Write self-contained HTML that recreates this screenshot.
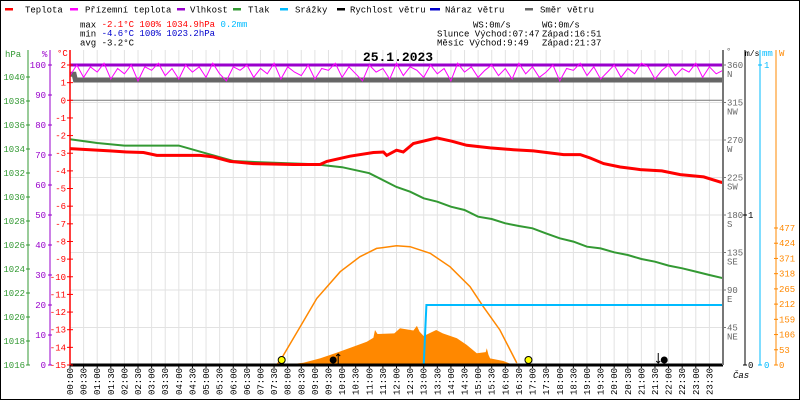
<!DOCTYPE html>
<html><head><meta charset="utf-8"><style>
html,body{margin:0;padding:0;background:#fff;}
svg{display:block;font-family:"Liberation Mono",monospace;}
</style></head><body>
<svg id="chart" width="800" height="400" viewBox="0 0 800 400" xmlns="http://www.w3.org/2000/svg">
<rect x="0.5" y="0.5" width="799" height="399" fill="#fff" stroke="#000"/>
<g font-size="9" dominant-baseline="middle">
 <g><rect x="5" y="8" width="8" height="2.5" fill="#f00"/><text x="25" y="10">Teplota</text></g>
 <g><rect x="70" y="8" width="8" height="2.5" fill="#f0f"/><text x="85" y="10">Přízemní teplota</text></g>
 <g><rect x="177" y="8" width="8" height="2.5" fill="#90c"/><text x="190" y="10">Vlhkost</text></g>
 <g><rect x="233" y="8" width="8" height="2.5" fill="#393"/><text x="248" y="10">Tlak</text></g>
 <g><rect x="280" y="8" width="8" height="2.5" fill="#0bf"/><text x="295" y="10">Srážky</text></g>
 <g><rect x="337" y="8" width="8" height="2.5" fill="#000"/><text x="350" y="10">Rychlost větru</text></g>
 <g><rect x="430" y="8" width="10" height="2.5" fill="#00c"/><text x="445" y="10">Náraz větru</text></g>
 <g><rect x="525" y="8" width="8" height="2.5" fill="#666"/><text x="540" y="10">Směr větru</text></g>
</g>
<g font-size="9" dominant-baseline="middle">
 <text x="80" y="25">max <tspan fill="#f00">-2.1°C 100%  1034.9hPa</tspan>   <tspan fill="#0bf">0.2mm</tspan></text>
 <text x="80" y="34">min <tspan fill="#00c">-4.6°C 100%  1023.2hPa</tspan></text>
 <text x="80" y="43">avg -3.2°C</text>
 <text x="473" y="25">WS:0m/s</text><text x="542" y="25">WG:0m/s</text>
 <text x="437" y="34">Slunce Východ:07:47</text><text x="542" y="34">Západ:16:51</text>
 <text x="437" y="43">Měsíc  Východ:9:49</text><text x="542" y="43">Západ:21:37</text>
</g>
<g id="plot"></g>
<text x="398" y="61" text-anchor="middle" font-size="13" font-weight="bold">25.1.2023</text>
</svg>
<script>
// ---- data ----
const tempHours = [0,1.47,2.08,2.7,3.19,4.78,5.27,5.88,6.74,8.21,9.19,9.44,10.29,11.15,11.52,11.64,12.0,12.25,12.62,13.48,14.03,14.58,15.44,16.3,17.03,18.14,18.75,19.12,19.61,20.22,20.96,21.75,22.43,23.29,23.9,24];
const tempValues = [-2.74,-2.87,-2.93,-2.96,-3.12,-3.12,-3.21,-3.46,-3.59,-3.64,-3.64,-3.46,-3.17,-2.96,-2.93,-3.12,-2.83,-2.93,-2.45,-2.13,-2.32,-2.55,-2.7,-2.8,-2.87,-3.08,-3.08,-3.27,-3.59,-3.78,-3.93,-4.0,-4.21,-4.34,-4.63,-4.67];
const pressHours = [0,1,2,3,4,5,6,7,8,9,10,11,12,12.5,13,13.5,14,14.5,15,15.5,16,16.5,17,17.5,18,18.5,19,19.5,20,20.5,21,21.5,22,22.5,23,23.5,24];
const pressValues = [1034.81,1034.5,1034.28,1034.28,1034.28,1033.64,1033.0,1032.89,1032.81,1032.73,1032.48,1031.98,1030.83,1030.44,1029.89,1029.61,1029.19,1028.92,1028.36,1028.17,1027.81,1027.58,1027.39,1026.97,1026.56,1026.28,1025.86,1025.72,1025.39,1025.17,1024.83,1024.61,1024.28,1024.06,1023.78,1023.5,1023.23];
const feelsValues = [1.4,2.0,1.3,1.9,1.6,2.1,1.2,1.8,1.5,2.0,1.1,1.9,1.7,2.1,1.4,1.8,1.2,2.0,1.6,1.9,1.3,2.1,1.5,1.1,1.9,1.7,2.0,1.3,1.8,1.5,2.1,1.2,1.9,1.6,1.4,2.0,1.2,1.8,1.7,2.1,1.3,1.9,1.5,1.1,2.0,1.6,1.8,1.2,2.1,1.4,1.9,1.7,1.3,2.0,1.5,1.8,1.1,2.1,1.6,1.9,1.3,1.7,2.0,1.4,1.8,1.2,2.1,1.5,1.9,1.3,1.6,2.0,1.1,1.8,1.7,2.1,1.4,1.9,1.2,1.6,2.0,1.3,1.8,1.5,2.1,1.9,1.2,1.7,2.0,1.4,1.8,1.6,2.1,1.3,1.9,1.5,1.7];
const humidityValue = 100;
const dirHours = [0,0.15,0.2,24];
const dirValues = [349,349,342,342];
const solarHours = [7.6,7.78,8.46,9.07,9.93,10.66,11.27,12.0,12.5,13.24,13.97,14.7,15.19,15.8,16.42];
const solarValues = [0,24,133,232,325,377,406,415,412,389,342,273,203,122,7];
const radHours = [8.0,8.09,8.58,9.19,9.8,10.42,10.91,11.15,11.21,11.3,11.92,12.13,12.62,12.75,12.85,13.0,13.46,13.7,14.22,14.58,14.95,15.28,15.32,15.38,15.44,15.93,16.3];
const radValues = [0,2,8,23,43,64,81,95,122,108,110,128,120,136,116,101,122,110,93,70,41,45,58,35,23,14,0];
const rainHours = [0,13.0,13.1,24];
const rainValues = [0,0,0.2,0.2];
const windValue = 0;
const sunrise = 7.78, sunset = 16.85, moonrise = 9.82, moonset = 21.62;
const hpaTicks = [1016,1018,1020,1022,1024,1026,1028,1030,1032,1034,1036,1038,1040];
const humTicks = [0,10,20,30,40,50,60,70,80,90,100];
const tempTicks = [2,1,0,-1,-2,-3,-4,-5,-6,-7,-8,-9,-10,-11,-12,-13,-14,-15];
const dirTicks = [45,90,135,180,225,270,315,360];
const dirNames = ["NE","E","SE","S","SW","W","NW","N"];
const wTicks = [0,53,106,159,212,265,318,371,424,477];

// ---- scales ----
const X0=70, X1=723, YB=365, YT=65;
const xS = h => X0 + h*(X1-X0)/24;
const yT = t => YB - (t+15)*(YB-YT)/17;
const yP = p => YB - (p-1016)*12;
const yH = v => YB - v*3;
const yD = d => YB - d*(YB-YT)/360;
const yW = w => YB - w*0.2872;
const yMM = m => YB - m*300;
const yWS = s => YB - s*150;

const NS="http://www.w3.org/2000/svg";
const plot=document.getElementById('plot');
function mk(tag,attrs,parent){const e=document.createElementNS(NS,tag);for(const k in attrs)e.setAttribute(k,attrs[k]);(parent||plot).appendChild(e);return e;}
function txt(x,y,s,attrs){const e=mk('text',Object.assign({x:x,y:y,'font-size':9},attrs||{}));e.textContent=s;return e;}
function pts(hs,vs,ys){return hs.map((h,i)=>xS(h).toFixed(1)+','+ys(vs[i]).toFixed(1)).join(' ');}

// grid
const grid=mk('g',{});


for(let i=1;i<48;i++){mk('line',{x1:xS(i/2),x2:xS(i/2),y1:50,y2:YB,stroke:'#e2e2e2','stroke-width':1},grid);}
dirTicks.forEach(d=>{if(d<360)mk('line',{x1:X0,x2:X1,y1:yD(d),y2:yD(d),stroke:'#e2e2e2'},grid);});
const zl=mk('line',{x1:X0,x2:X1,y1:yT(0),y2:yT(0),stroke:'#777','stroke-width':1});



// wind direction
const dl=mk('polyline',{points:pts(dirHours,dirValues,yD),fill:'none',stroke:'#666','stroke-width':5});


// humidity
const hl=mk('line',{x1:X0,x2:X1,y1:yH(humidityValue),y2:yH(humidityValue),stroke:'#90c','stroke-width':3});


// feels-like
const fh=feelsValues.map((v,i)=>i*24/(feelsValues.length-1));
const fl=mk('polyline',{points:pts(fh,feelsValues,yT),fill:'none',stroke:'#f0f','stroke-width':1});


// radiation area
const ra=mk('polygon',{points:xS(radHours[0])+','+YB+' '+pts(radHours,radValues,yW)+' '+xS(radHours[radHours.length-1])+','+YB,fill:'#f80'});


// theoretical solar
const sl=mk('polyline',{points:pts(solarHours,solarValues,yW),fill:'none',stroke:'#f80','stroke-width':1.5});


// pressure
const pl=mk('polyline',{points:pts(pressHours,pressValues,yP),fill:'none',stroke:'#393','stroke-width':2});


// temperature
const tl=mk('polyline',{points:pts(tempHours,tempValues,yT),fill:'none',stroke:'#f00','stroke-width':3});


// rain
const rl=mk('polyline',{points:pts(rainHours,rainValues,yMM),fill:'none',stroke:'#0bf','stroke-width':2});


// wind speed baseline
const wl=mk('line',{x1:X0,x2:X1,y1:yWS(windValue),y2:yWS(windValue),stroke:'#000','stroke-width':3});



// sun markers
[sunrise,sunset].forEach((h,i)=>{
 const c=mk('circle',{cx:xS(h),cy:YB-5,r:3.5,fill:'#ff0',stroke:'#000','stroke-width':1});
 
 
});
// moon markers
const mr=mk('g',{});


mk('circle',{cx:xS(moonrise)-4,cy:YB-5,r:3.5,fill:'#000'},mr);
mk('path',{d:`M${xS(moonrise)+1},${YB-1}V${YB-11}M${xS(moonrise)-1},${YB-9}L${xS(moonrise)+1},${YB-11}L${xS(moonrise)+3},${YB-9}`,stroke:'#000',fill:'none'},mr);
const ms=mk('g',{});


mk('circle',{cx:xS(moonset)+6,cy:YB-5,r:3.5,fill:'#000'},ms);
mk('path',{d:`M${xS(moonset)},${YB-12}V${YB-2}M${xS(moonset)-2},${YB-4}L${xS(moonset)},${YB-2}L${xS(moonset)+2},${YB-4}`,stroke:'#000',fill:'none'},ms);

// left axes
const ax=mk('g',{});


mk('line',{x1:28,x2:28,y1:50,y2:YB,stroke:'#393'},ax);
txt(5,57,'hPa',{fill:'#393'});
hpaTicks.forEach(p=>{mk('line',{x1:26,x2:30,y1:yP(p),y2:yP(p),stroke:'#393'},ax);txt(25,yP(p)+3,String(p),{fill:'#393','text-anchor':'end'});});
const ah=mk('g',{});


mk('line',{x1:50,x2:50,y1:50,y2:YB,stroke:'#90c'},ah);
txt(42,57,'%',{fill:'#90c'});
humTicks.forEach(v=>{mk('line',{x1:48,x2:52,y1:yH(v),y2:yH(v),stroke:'#90c'},ah);txt(46,yH(v)+3,String(v),{fill:'#90c','text-anchor':'end'});});
const at=mk('g',{});


mk('line',{x1:X0,x2:X0,y1:50,y2:YB,stroke:'#f00','stroke-width':1.5},at);
txt(57,56,'°C',{fill:'#f00'});
tempTicks.forEach(t=>{mk('line',{x1:67,x2:73,y1:yT(t),y2:yT(t),stroke:'#f00'},at);txt(66,yT(t)+3,String(t),{fill:'#f00','text-anchor':'end'});});

// right axes
const ad=mk('g',{});


mk('line',{x1:X1,x2:X1,y1:50,y2:YB,stroke:'#777','stroke-width':2},ad);
txt(726,54,'°',{fill:'#666'});
dirTicks.forEach((d,i)=>{mk('line',{x1:X1,x2:X1+3,y1:yD(d),y2:yD(d),stroke:'#777'},ad);txt(727,yD(d)+3,String(d),{fill:'#666'});txt(727,yD(d)+12,dirNames[i],{fill:'#666'});});
const aw=mk('g',{});


mk('line',{x1:745,x2:745,y1:50,y2:YB,stroke:'#000'},aw);
txt(745,56,'m/s',{'font-size':8});
[0,1].forEach(s=>{mk('line',{x1:743,x2:747,y1:yWS(s),y2:yWS(s),stroke:'#000'},aw);txt(748,yWS(s)+3,String(s));});
const am=mk('g',{});


mk('line',{x1:760,x2:760,y1:50,y2:YB,stroke:'#0bf'},am);
txt(762,56,'mm',{fill:'#0bf'});
[0,1].forEach(m=>{mk('line',{x1:758,x2:762,y1:yMM(m),y2:yMM(m),stroke:'#0bf'},am);txt(764,yMM(m)+3,String(m),{fill:'#0bf'});});
const aW=mk('g',{});


mk('line',{x1:776,x2:776,y1:50,y2:YB,stroke:'#f80'},aW);
txt(779,56,'W',{fill:'#f80'});
wTicks.forEach(w=>{mk('line',{x1:774,x2:778,y1:yW(w),y2:yW(w),stroke:'#f80'},aW);txt(779,yW(w)+3,String(w),{fill:'#f80'});});

// x axis labels
const axx=mk('g',{});


for(let i=0;i<48;i++){
 const h=Math.floor(i/2), m=i%2?'30':'00';
 const lab=(h<10?'0':'')+h+':'+m;
 const x=xS(i/2)+3, y=395;
 const t=txt(x,y,lab,{transform:`rotate(-90 ${x} ${y})`,'font-size':9},axx);
 
 
 mk('line',{x1:xS(i/2),x2:xS(i/2),y1:YB,y2:YB+3,stroke:'#000'},axx);
}
txt(733,378,'Čas',{'font-style':'italic'});
</script>
</body></html>
